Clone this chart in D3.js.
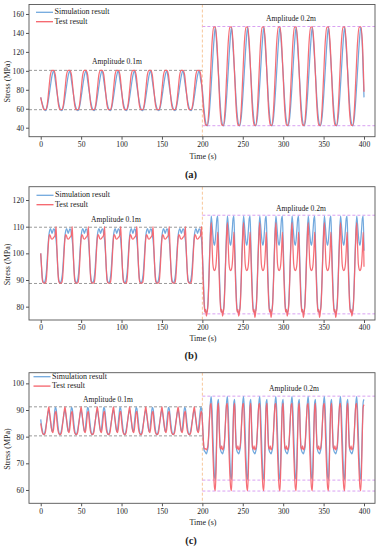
<!DOCTYPE html>
<html><head><meta charset="utf-8">
<script src="https://cdn.jsdelivr.net/npm/d3@7/dist/d3.min.js"></script>
<style>body{margin:0;background:#fff}svg{display:block}text{font-family:"Liberation Serif","Times New Roman",serif;fill:#222}</style>
</head><body><svg id="chart" width="381" height="550"></svg>
<script>
// ---------- data ----------
const xTicks=[0,50,100,150,200,250,300,350,400];
const yTicksA=[40,60,80,100,120,140,160];
const yTicksB=[80,90,100,110,120];
const yTicksC=[60,70,80,90,100];
const seriesNames=["Simulation result","Test result"];
const ampLabels=["Amplitude 0.1m","Amplitude 0.2m"];
const panelTags=["(a)","(b)","(c)"];
const switchTime=200;
// sample times (s)
const timeA=d3.range(0,401,2);
const timeBC=d3.range(0,401,1);
// reference levels (MPa)
const aGray=[100.5,59],aViolet=[146.8,42.1];
const bGray=[109.8,88.7],bViolet=[114.3,77.3];
const cGray=[91.2,80.3],cViolet=[95.2,63.7,59.6];

// (a) every 2 s
const aSim=[
72,65,60,58,62,72,84,95,100,90,
78,67,60,58,62,72,84,95,100,90,
78,67,60,58,62,72,84,95,100,90,
78,67,60,58,62,72,84,95,100,90,
78,67,60,58,62,72,84,95,100,90,
78,67,60,58,62,72,84,95,100,90,
78,67,60,58,62,72,84,95,100,90,
78,67,60,58,62,72,84,95,100,90,
78,67,60,58,62,72,84,95,100,90,
78,67,60,58,62,72,84,95,100,90,
80,60,46,42,50,72,100,128,146,124,
96,66,47,42,50,72,100,128,146,124,
96,66,47,42,50,72,100,128,146,124,
96,66,47,42,50,72,100,128,146,124,
96,66,47,42,50,72,100,128,146,124,
96,66,47,42,50,72,100,128,146,124,
96,66,47,42,50,72,100,128,146,124,
96,66,47,42,50,72,100,128,146,124,
96,66,47,42,50,72,100,128,146,124,
96,66,47,42,50,72,100,128,146,124,
72];
const aTest=[
72,64,59,59,64,80,96,100.5,100.5,96,
80,64,59,59,64,80,96,100.5,100.5,96,
80,64,59,59,64,80,96,100.5,100.5,96,
80,64,59,59,64,80,96,100.5,100.5,96,
80,64,59,59,64,80,96,100.5,100.5,96,
80,64,59,59,64,80,96,100.5,100.5,96,
80,64,59,59,64,80,96,100.5,100.5,96,
80,64,59,59,64,80,96,100.5,100.5,96,
80,64,59,59,64,80,96,100.5,100.5,96,
80,64,59,59,64,80,96,100.5,100.5,96,
76,54,43,42.5,58,94,130,146,146.5,130,
94,58,43,42.5,58,94,130,146,146.5,130,
94,58,43,42.5,58,94,130,146,146.5,130,
94,58,43,42.5,58,94,130,146,146.5,130,
94,58,43,42.5,58,94,130,146,146.5,130,
94,58,43,42.5,58,94,130,146,146.5,130,
94,58,43,42.5,58,94,130,146,146.5,130,
94,58,43,42.5,58,94,130,146,146.5,130,
94,58,43,42.5,58,94,130,146,146.5,130,
94,58,43,42.5,58,94,130,146,146.5,130,
78];

// (b) every 1 s
const bSim=[
100,95,91,89.3,89,89.3,90.5,93,97.5,102.5,106.5,108.5,109.3,108.5,107.5,108.3,109.2,109,107,105,
101,95,91,89.3,89,89.3,90.5,93,97.5,102.5,106.5,108.5,109.3,108.5,107.5,108.3,109.2,109,107,105,
101,95,91,89.3,89,89.3,90.5,93,97.5,102.5,106.5,108.5,109.3,108.5,107.5,108.3,109.2,109,107,105,
101,95,91,89.3,89,89.3,90.5,93,97.5,102.5,106.5,108.5,109.3,108.5,107.5,108.3,109.2,109,107,105,
101,95,91,89.3,89,89.3,90.5,93,97.5,102.5,106.5,108.5,109.3,108.5,107.5,108.3,109.2,109,107,105,
101,95,91,89.3,89,89.3,90.5,93,97.5,102.5,106.5,108.5,109.3,108.5,107.5,108.3,109.2,109,107,105,
101,95,91,89.3,89,89.3,90.5,93,97.5,102.5,106.5,108.5,109.3,108.5,107.5,108.3,109.2,109,107,105,
101,95,91,89.3,89,89.3,90.5,93,97.5,102.5,106.5,108.5,109.3,108.5,107.5,108.3,109.2,109,107,105,
101,95,91,89.3,89,89.3,90.5,93,97.5,102.5,106.5,108.5,109.3,108.5,107.5,108.3,109.2,109,107,105,
101,95,91,89.3,89,89.3,90.5,93,97.5,102.5,106.5,108.5,109.3,108.5,107.5,108.3,109.2,109,107,105,
100,93,84,79,78,78,78.5,82,90,100,109,114,111,107,104,103,105,109,113,114,
104,93,84,79,78,78,78.5,82,90,100,109,114,111,107,104,103,105,109,113,114,
104,93,84,79,78,78,78.5,82,90,100,109,114,111,107,104,103,105,109,113,114,
104,93,84,79,78,78,78.5,82,90,100,109,114,111,107,104,103,105,109,113,114,
104,93,84,79,78,78,78.5,82,90,100,109,114,111,107,104,103,105,109,113,114,
104,93,84,79,78,78,78.5,82,90,100,109,114,111,107,104,103,105,109,113,114,
104,93,84,79,78,78,78.5,82,90,100,109,114,111,107,104,103,105,109,113,114,
104,93,84,79,78,78,78.5,82,90,100,109,114,111,107,104,103,105,109,113,114,
104,93,84,79,78,78,78.5,82,90,100,109,114,111,107,104,103,105,109,113,114,
104,93,84,79,78,78,78.5,82,90,100,109,114,111,107,104,103,105,109,113,114,
101];
const bTest=[
100,95,90,89,88.8,88.8,89,90.5,95,101,105.5,107,106.5,105.5,105.3,105.5,106,106.3,107,110,
102,95,90,89,88.8,88.8,89,90.5,95,101,105.5,107,106.5,105.5,105.3,105.5,106,106.3,107,110,
102,95,90,89,88.8,88.8,89,90.5,95,101,105.5,107,106.5,105.5,105.3,105.5,106,106.3,107,110,
102,95,90,89,88.8,88.8,89,90.5,95,101,105.5,107,106.5,105.5,105.3,105.5,106,106.3,107,110,
102,95,90,89,88.8,88.8,89,90.5,95,101,105.5,107,106.5,105.5,105.3,105.5,106,106.3,107,110,
102,95,90,89,88.8,88.8,89,90.5,95,101,105.5,107,106.5,105.5,105.3,105.5,106,106.3,107,110,
102,95,90,89,88.8,88.8,89,90.5,95,101,105.5,107,106.5,105.5,105.3,105.5,106,106.3,107,110,
102,95,90,89,88.8,88.8,89,90.5,95,101,105.5,107,106.5,105.5,105.3,105.5,106,106.3,107,110,
102,95,90,89,88.8,88.8,89,90.5,95,101,105.5,107,106.5,105.5,105.3,105.5,106,106.3,107,110,
102,95,90,89,88.8,88.8,89,90.5,95,101,105.5,107,106.5,105.5,105.3,105.5,106,106.3,107,110,
100,90,82,78,79,76.5,78,81,89,99,107,111.5,103,96,94,93.5,94,96,101,108,
100,90,82,78,79,76.5,78,81,89,99,107,111.5,103,96,94,93.5,94,96,101,108,
100,90,82,78,79,76.5,78,81,89,99,107,111.5,103,96,94,93.5,94,96,101,108,
100,90,82,78,79,76,78,81,89,99,107,111.5,103,96,94,93.5,94,96,101,108,
100,90,82,78,79,76,78,81,89,99,107,111.5,103,96,94,93.5,94,96,101,108,
100,90,82,78,79,76.5,78,81,89,99,107,111.5,103,96,94,93.5,94,96,101,108,
100,90,82,78,79,76,78,81,89,99,107,111.5,103,96,94,93.5,94,96,101,108,
100,90,82,78,79,76,78,81,89,99,107,111.5,103,96,94,93.5,94,96,101,108,
100,90,82,78,79,76,78,81,89,99,107,111.5,103,96,94,93.5,94,96,101,108,
100,90,82,78,79,76.5,78,81,89,99,107,111.5,103,96,94,93.5,94,96,101,108,
95];

// (c) every 1 s
const cSim=[
86.5,84,82.5,81,80.8,81.5,83,85,87,89,90,88.5,86,83.5,82,82.5,85.5,88.5,91,90.5,
88,85,82.5,81,80.8,81.5,83,85,87,89,90,88.5,86,83.5,82,82.5,85.5,88.5,91,90.5,
88,85,82.5,81,80.8,81.5,83,85,87,89,90,88.5,86,83.5,82,82.5,85.5,88.5,91,90.5,
88,85,82.5,81,80.8,81.5,83,85,87,89,90,88.5,86,83.5,82,82.5,85.5,88.5,91,90.5,
88,85,82.5,81,80.8,81.5,83,85,87,89,90,88.5,86,83.5,82,82.5,85.5,88.5,91,90.5,
88,85,82.5,81,80.8,81.5,83,85,87,89,90,88.5,86,83.5,82,82.5,85.5,88.5,91,90.5,
88,85,82.5,81,80.8,81.5,83,85,87,89,90,88.5,86,83.5,82,82.5,85.5,88.5,91,90.5,
88,85,82.5,81,80.8,81.5,83,85,87,89,90,88.5,86,83.5,82,82.5,85.5,88.5,91,90.5,
88,85,82.5,81,80.8,81.5,83,85,87,89,90,88.5,86,83.5,82,82.5,85.5,88.5,91,90.5,
88,85,82.5,81,80.8,81.5,83,85,87,89,90,88.5,86,83.5,82,82.5,85.5,88.5,91,90.5,
86,80,75,74.5,74,73.5,74.5,76,81,88,93,95,90,81,72,65,64,72,84,93,
94,84,76,74.5,74,73.5,74.5,76,81,88,93,95,90,81,72,65,64,72,84,93,
94,84,76,74.5,74,73.5,74.5,76,81,88,93,95,90,81,72,65,64,72,84,93,
94,84,76,74.5,74,73.5,74.5,76,81,88,93,95,90,81,72,65,64,72,84,93,
94,84,76,74.5,74,73.5,74.5,76,81,88,93,95,90,81,72,65,64,72,84,93,
94,84,76,74.5,74,73.5,74.5,76,81,88,93,95,90,81,72,65,64,72,84,93,
94,84,76,74.5,74,73.5,74.5,76,81,88,93,95,90,81,72,65,64,72,84,93,
94,84,76,74.5,74,73.5,74.5,76,81,88,93,95,90,81,72,65,64,72,84,93,
94,84,76,74.5,74,73.5,74.5,76,81,88,93,95,90,81,72,65,64,72,84,93,
94,84,76,74.5,74,73.5,74.5,76,81,88,93,95,90,81,72,65,64,72,84,93,
94];
const cTest=[
85,83,81.5,81,80.8,81,82,84.5,87,89.5,91.2,89,86.5,84,82,81.5,83,86,89,89.5,
86,83,81.5,81,80.8,81,82,84.5,87,89.5,91.2,89,86.5,84,82,81.5,83,86,89,89.5,
86,83,81.5,81,80.8,81,82,84.5,87,89.5,91.2,89,86.5,84,82,81.5,83,86,89,89.5,
86,83,81.5,81,80.8,81,82,84.5,87,89.5,91.2,89,86.5,84,82,81.5,83,86,89,89.5,
86,83,81.5,81,80.8,81,82,84.5,87,89.5,91.2,89,86.5,84,82,81.5,83,86,89,89.5,
86,83,81.5,81,80.8,81,82,84.5,87,89.5,91.2,89,86.5,84,82,81.5,83,86,89,89.5,
86,83,81.5,81,80.8,81,82,84.5,87,89.5,91.2,89,86.5,84,82,81.5,83,86,89,89.5,
86,83,81.5,81,80.8,81,82,84.5,87,89.5,91.2,89,86.5,84,82,81.5,83,86,89,89.5,
86,83,81.5,81,80.8,81,82,84.5,87,89.5,91.2,89,86.5,84,82,81.5,83,86,89,89.5,
86,83,81.5,81,80.8,81,82,84.5,87,89.5,91.2,89,86.5,84,82,81.5,83,86,89,89.5,
86,80,76,75.3,75.5,75,75.5,77,82,88,92,92.5,84,74,66,61,59.8,68,82,91,
92.5,82,76,75.3,76.5,75,75.5,77,82,88,92,92.5,84,74,66,61,59.8,68,82,91,
92.5,82,76,75.3,76.5,75,75.5,77,82,88,92,92.5,84,74,66,61,59.8,68,82,91,
92.5,82,76,75.3,76.5,75,75.5,77,82,88,92,92.5,84,74,66,61,59.8,68,82,91,
92.5,82,76,75.3,76.5,75,75.5,77,82,88,92,92.5,84,74,66,61,59.8,68,82,91,
92.5,82,76,75.3,76.5,75,75.5,77,82,88,92,92.5,84,74,66,61,59.8,68,82,91,
92.5,82,76,75.3,76.5,75,75.5,77,82,88,92,92.5,84,74,66,61,59.8,68,82,91,
92.5,82,76,75.3,76.5,75,75.5,77,82,88,92,92.5,84,74,66,61,59.8,68,82,91,
92.5,82,76,75.3,76.5,75,75.5,77,82,88,92,92.5,84,74,66,61,59.8,68,82,91,
92.5,82,76,75.3,76.5,75,75.5,77,82,88,92,92.5,84,74,66,61,59.8,68,82,91,
92];

// ---------- layout ----------
const L=29,R=375;
const colors={sim:"#72a9de",test:"#f5626a",gray:"#8f8f8f",violet:"#d9a0f2",orange:"#f7c79a",axis:"#555"};
const panels=[
 {time:timeA,sim:aSim,test:aTest,yDom:[30.5,170],yTicks:yTicksA,top:4.5,bottom:136.7,gray:aGray,violet:aViolet,
  amp1:[117,62],amp2:[291,19],legX:36,legY:12.3,titleY:157,tagY:176,tag:panelTags[0]},
 {time:timeBC,sim:bSim,test:bTest,yDom:[75,125],yTicks:yTicksB,top:186.7,bottom:320,gray:bGray,violet:bViolet,
  amp1:[116,220.7],amp2:[301,209.3],legX:36.5,legY:195.3,titleY:339,tagY:357,tag:panelTags[1]},
 {time:timeBC,sim:cSim,test:cTest,yDom:[55,104],yTicks:yTicksC,top:372.7,bottom:503.3,gray:cGray,violet:cViolet,
  amp1:[108,400.3],amp2:[294,389],legX:33.5,legY:376.7,titleY:523,tagY:542,tag:panelTags[2]}
];

const svg=d3.select("#chart");
const x=d3.scaleLinear().domain([-14.5,413.6]).range([L,R]);

panels.forEach((p,i)=>{
  const y=d3.scaleLinear().domain(p.yDom).range([p.bottom,p.top]);
  const g=svg.append("g");
  const cid="clip"+i;
  g.append("clipPath").attr("id",cid).append("rect").attr("x",L).attr("y",p.top).attr("width",R-L).attr("height",p.bottom-p.top);
  const plot=g.append("g").attr("clip-path",`url(#${cid})`);

  plot.append("line").attr("x1",x(switchTime)).attr("x2",x(switchTime)).attr("y1",p.top).attr("y2",p.bottom)
    .attr("stroke",colors.orange).attr("stroke-width",1).attr("stroke-dasharray","3,2");
  p.gray.forEach(v=>plot.append("line").attr("x1",L).attr("x2",x(switchTime)).attr("y1",y(v)).attr("y2",y(v))
    .attr("stroke",colors.gray).attr("stroke-width",0.9).attr("stroke-dasharray","3,2"));
  p.violet.forEach(v=>plot.append("line").attr("x1",x(switchTime)).attr("x2",R).attr("y1",y(v)).attr("y2",y(v))
    .attr("stroke",colors.violet).attr("stroke-width",1).attr("stroke-dasharray","3,2"));

  const line=d3.line().x((d,j)=>x(p.time[j])).y(d=>y(d)).curve(d3.curveMonotoneX);
  plot.append("path").datum(p.sim).attr("d",line).attr("fill","none").attr("stroke",colors.sim).attr("stroke-width",1.25);
  plot.append("path").datum(p.test).attr("d",line).attr("fill","none").attr("stroke",colors.test).attr("stroke-width",1.25).attr("stroke-opacity",0.92);

  g.append("rect").attr("x",L).attr("y",p.top).attr("width",R-L).attr("height",p.bottom-p.top)
    .attr("fill","none").attr("stroke",colors.axis).attr("stroke-width",0.9);

  const xa=g.append("g").attr("transform",`translate(0,${p.bottom})`)
    .call(d3.axisBottom(x).tickValues(xTicks).tickSize(3).tickPadding(2).tickFormat(d3.format("d")));
  const ya=g.append("g").attr("transform",`translate(${L},0)`)
    .call(d3.axisLeft(y).tickValues(p.yTicks).tickSize(3).tickPadding(2).tickFormat(d3.format("d")));
  [xa,ya].forEach(a=>{a.select(".domain").remove();a.selectAll("line").attr("stroke",colors.axis);
    a.selectAll("text").attr("font-size",7.6).attr("font-family","Liberation Serif").attr("fill","#333");});

  g.append("text").attr("x",203).attr("y",p.titleY).attr("text-anchor","middle").attr("dominant-baseline","middle")
    .attr("font-size",8).text("Time (s)");
  const ym=(p.top+p.bottom)/2+11;
  g.append("text").attr("transform",`translate(8,${ym}) rotate(-90)`).attr("text-anchor","middle").attr("dominant-baseline","middle")
    .attr("font-size",8).text("Stress (MPa)");
  g.append("text").attr("x",191).attr("y",p.tagY).attr("text-anchor","middle").attr("dominant-baseline","middle")
    .attr("font-size",10.5).attr("font-weight","bold").text(p.tag);

  g.append("text").attr("x",p.amp1[0]).attr("y",p.amp1[1]).attr("text-anchor","middle").attr("dominant-baseline","middle")
    .attr("font-size",7.6).text(ampLabels[0]);
  g.append("text").attr("x",p.amp2[0]).attr("y",p.amp2[1]).attr("text-anchor","middle").attr("dominant-baseline","middle")
    .attr("font-size",7.6).text(ampLabels[1]);

  [colors.sim,colors.test].forEach((c,k)=>{
    const ly=p.legY+k*9.4;
    g.append("line").attr("x1",p.legX).attr("x2",p.legX+17).attr("y1",ly).attr("y2",ly).attr("stroke",c).attr("stroke-width",1.3);
    g.append("text").attr("x",p.legX+18.5).attr("y",ly).attr("dominant-baseline","middle").attr("font-size",8).text(seriesNames[k]);
  });
});
</script></body></html>
